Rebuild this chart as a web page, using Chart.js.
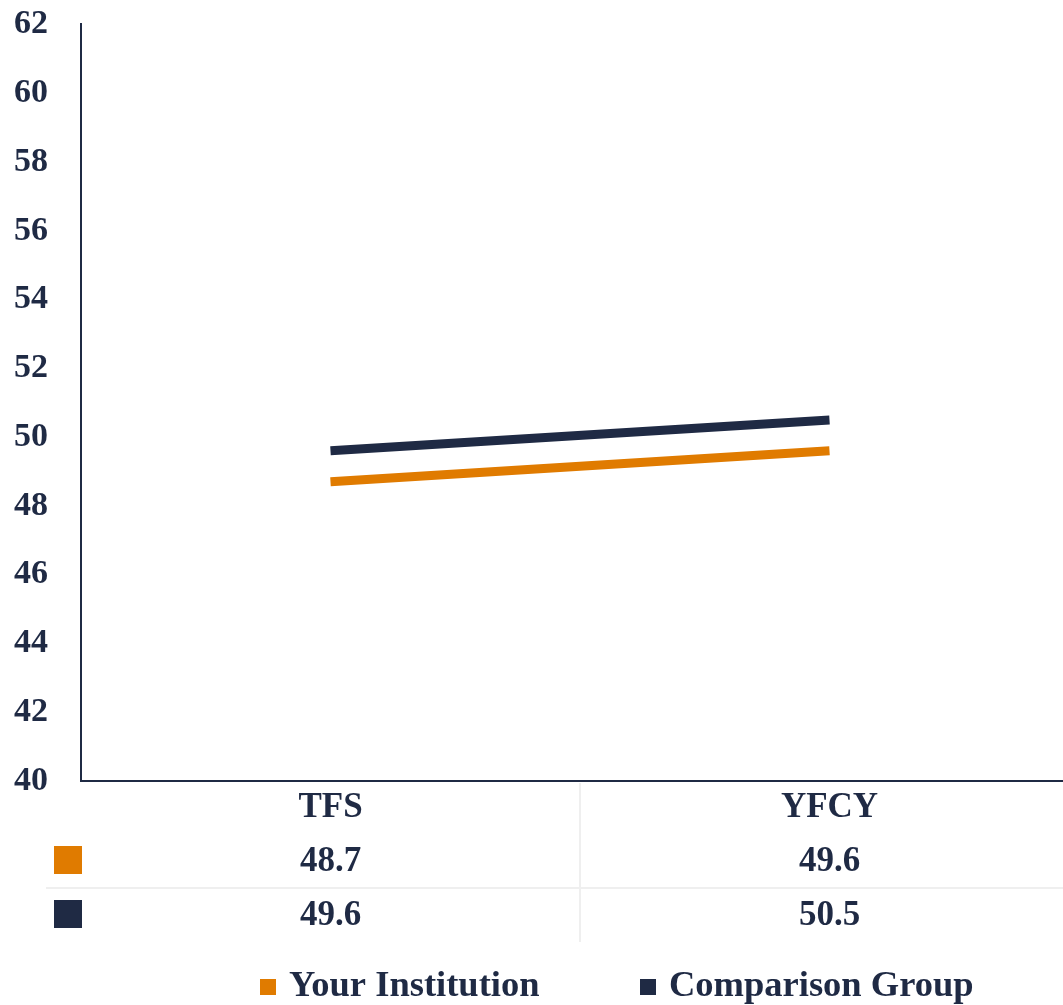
<!DOCTYPE html>
<html>
<head>
<meta charset="utf-8">
<script src="https://cdn.jsdelivr.net/npm/chart.js@4/dist/chart.umd.min.js"></script>
<style>
  html, body { margin: 0; padding: 0; background: #fff; overflow: hidden; }
  #wrap { width: 1080px; height: 1005px; overflow: hidden; }
  #chart { display: block; margin-top: -29px; }
</style>
</head>
<body>
<div id="wrap"><canvas id="chart" width="1080" height="1034"></canvas></div>
<script>
  // Data
  const categories = ['TFS', 'YFCY'];
  const yourInstitution = [48.7, 49.6];
  const comparisonGroup = [49.6, 50.5];
  const seriesNames = ['Your Institution', 'Comparison Group'];

  const NAVY = '#1F2A44';
  const ORANGE = '#E07B00';
  const FONT = "'Liberation Serif', 'Times New Roman', serif";
  const SHIFT = 29; // canvas is pulled up by this much

  // Data table under the x axis + custom legend
  const tablePlugin = {
    id: 'dataTable',
    afterDraw(chart) {
      const ctx = chart.ctx;
      const x = chart.scales.x;
      const area = chart.chartArea;
      const sets = chart.data.datasets;
      const rowY = [862 + SHIFT, 916 + SHIFT];

      ctx.save();
      // dividers
      ctx.strokeStyle = '#EFEFEF';
      ctx.lineWidth = 2;
      ctx.beginPath();
      ctx.moveTo(46, 888 + SHIFT);
      ctx.lineTo(chart.width, 888 + SHIFT);
      const mid = (x.getPixelForValue(0) + x.getPixelForValue(1)) / 2;
      ctx.moveTo(mid, area.bottom + 2);
      ctx.lineTo(mid, 942 + SHIFT);
      ctx.stroke();

      ctx.font = 'bold 35px ' + FONT;
      ctx.fillStyle = NAVY;
      ctx.textAlign = 'center';
      ctx.textBaseline = 'middle';
      sets.forEach(function (ds, r) {
        ctx.fillStyle = ds.borderColor;
        ctx.fillRect(54, rowY[r] - 16, 28, 28);
        ctx.fillStyle = NAVY;
        ds.data.forEach(function (v, i) {
          ctx.fillText(v.toFixed(1), x.getPixelForValue(i), rowY[r]);
        });
      });

      // legend
      ctx.font = 'bold 36.5px ' + FONT;
      ctx.textAlign = 'left';
      const legendX = [260, 640];
      sets.forEach(function (ds, r) {
        ctx.fillStyle = ds.borderColor;
        ctx.fillRect(legendX[r], 979 + SHIFT, 16, 16);
        ctx.fillStyle = NAVY;
        ctx.fillText(ds.label, legendX[r] + 29, 987 + SHIFT);
      });
      ctx.restore();
    }
  };

  new Chart(document.getElementById('chart'), {
    type: 'line',
    data: {
      labels: categories,
      datasets: [
        { label: seriesNames[0], data: yourInstitution, borderColor: ORANGE, backgroundColor: ORANGE },
        { label: seriesNames[1], data: comparisonGroup, borderColor: NAVY, backgroundColor: NAVY }
      ]
    },
    options: {
      responsive: false,
      animation: false,
      layout: { padding: { top: 0, left: 14, right: 1, bottom: 0 } },
      elements: {
        line: { borderWidth: 9, tension: 0, borderCapStyle: 'butt' },
        point: { radius: 0, hoverRadius: 0 }
      },
      plugins: { legend: { display: false }, tooltip: { enabled: false } },
      scales: {
        x: {
          offset: true,
          grid: { display: false, drawTicks: false },
          border: { display: true, color: NAVY, width: 2 },
          ticks: { color: NAVY, padding: 6, font: { family: FONT, size: 35, weight: 'bold' } },
          afterFit(scale) { scale.height = 224; }
        },
        y: {
          min: 40,
          max: 62,
          grid: { display: false, drawTicks: false },
          border: { display: true, color: NAVY, width: 2 },
          ticks: { stepSize: 2, color: NAVY, padding: 33, font: { family: FONT, size: 34, weight: 'bold' } },
          afterFit(scale) { scale.width = 67; }
        }
      }
    },
    plugins: [tablePlugin]
  });
</script>
</body>
</html>
